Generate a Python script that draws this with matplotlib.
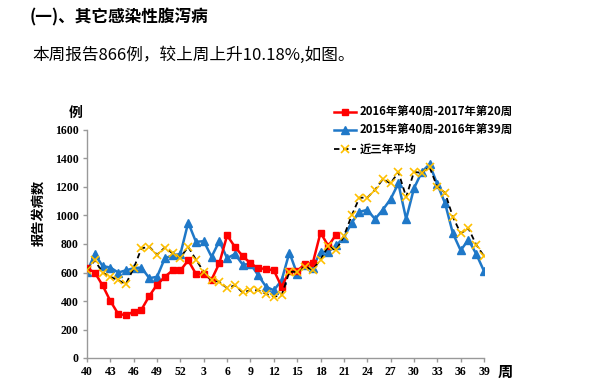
import matplotlib
matplotlib.use('Agg')
import matplotlib.pyplot as plt

# weeks: 40..52 then 1..39
weeks = list(range(40, 53)) + list(range(1, 40))
tick_labels = ['40', '43', '46', '49', '52', '3', '6', '9', '12', '15', '18',
               '21', '24', '27', '30', '33', '36', '39']

# 2016 wk40 - 2017 wk20
red_vals = [630, 600, 510, 400, 310, 300, 325, 340, 435, 515, 570, 615, 615,
            685, 590, 590, 550, 665, 860, 780, 715, 665, 630, 625, 615,
            500, 610, 610, 660, 665, 880, 786, 866]
# 2015 wk40 - 2016 wk39
blue_vals = [605, 730, 645, 635, 600, 615, 630, 635, 560, 570, 700, 720, 730,
             950, 815, 820, 710, 820, 700, 730, 655, 660, 580, 500, 475,
             545, 740, 590, 650, 635, 745, 745, 790, 845, 950, 1025, 1040,
             975, 1040, 1115, 1225, 975, 1190, 1305, 1360, 1220, 1085, 875,
             755, 830, 730, 610]
# three-year average
avg_vals = [615, 685, 600, 570, 545, 520, 630, 770, 780, 725, 775, 735, 705,
            780, 690, 605, 545, 535, 490, 510, 460, 475, 475, 450, 430,
            440, 605, 605, 640, 620, 690, 785, 755, 855, 1000, 1125, 1125,
            1180, 1255, 1225, 1305, 1130, 1305, 1300, 1340, 1200, 1160, 990,
            875, 910, 795, 715]

cjk = ['Noto Sans CJK SC', 'DejaVu Sans']
num_font = 'Liberation Serif'

fig = plt.figure(figsize=(6, 3.9), dpi=100)
ax = fig.add_axes([87 / 600, 1 - 358 / 390, 397 / 600, 228 / 390])

x_blue = list(range(len(blue_vals)))
x_red = list(range(len(red_vals)))
x_avg = list(range(len(avg_vals)))

ax.plot(x_blue, blue_vals, color='#1F78C8', lw=1.8, marker='^', ms=5.5,
        label='2015年第40周-2016年第39周', zorder=2)
ax.plot(x_red, red_vals, color='#FF0000', lw=1.8, marker='s', ms=5,
        label='2016年第40周-2017年第20周', zorder=3)
ax.plot(x_avg, avg_vals, color='black', lw=1.3, ls=(0, (3, 2)), marker='x',
        ms=5.5, mec='#FFC000', mew=1.2, label='近三年平均', zorder=4)

ax.set_xlim(0, 51)
ax.set_ylim(0, 1600)
ax.set_xticks(range(0, 52, 3))
ax.set_xticklabels(tick_labels)
ax.set_yticks(range(0, 1601, 200))

for s in ['top', 'right']:
    ax.spines[s].set_visible(False)
for s in ['left', 'bottom']:
    ax.spines[s].set_color('#999999')
    ax.spines[s].set_linewidth(1)
ax.tick_params(direction='out', length=3, width=1, color='#999999', pad=3)
for lab in ax.get_xticklabels() + ax.get_yticklabels():
    lab.set_fontfamily(num_font)
    lab.set_fontweight('bold')
    lab.set_fontsize(8.5)

handles, labels = ax.get_legend_handles_labels()
order = [1, 0, 2]
fig.legend([handles[i] for i in order], [labels[i] for i in order],
           loc='upper left', bbox_to_anchor=(328 / 600, 1 - 100 / 390),
           frameon=False, borderpad=0, handlelength=2.0, handletextpad=0.3,
           labelspacing=0.5,
           prop={'family': cjk, 'weight': 'bold', 'size': 8.2})

fig.text(30 / 600, 1 - 17 / 390, '(一)、其它感染性腹泻病', family=cjk,
         weight='bold', fontsize=12, ha='left', va='center')
fig.text(32 / 600, 1 - 55 / 390, '本周报告866例，较上周上升10.18%,如图。',
         family=cjk, fontsize=12, ha='left', va='center')
fig.text(38 / 600, 1 - 213 / 390, '报告发病数', family=cjk, weight='bold',
         fontsize=9.5, rotation=90, ha='center', va='center')
fig.text(76 / 600, 1 - 113 / 390, '例', family=cjk, weight='bold',
         fontsize=10, ha='center', va='center')
fig.text(505 / 600, 1 - 372 / 390, '周', family=cjk, weight='bold',
         fontsize=11, ha='center', va='center')

fig.savefig('out.png', dpi=100)
